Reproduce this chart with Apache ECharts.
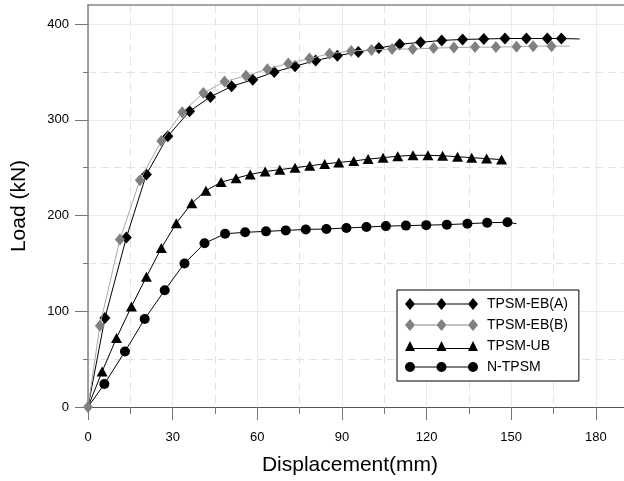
<!DOCTYPE html>
<html>
<head>
<meta charset="utf-8">
<script src="https://cdn.jsdelivr.net/npm/echarts@6/dist/echarts.min.js"></script>
<style>
html, body { margin: 0; padding: 0; background: #fff; }
#chart { width: 624px; height: 481px; }
</style>
</head>
<body>
<div id="chart"></div>
<script>
// values (displacement mm / load kN)
var ebA_x = [0, 6.0, 13.6, 20.7, 28.3, 36.0, 43.4, 50.9, 58.4, 66.0, 73.4, 80.7, 88.4, 95.8, 103.1, 110.5, 117.9, 125.4, 132.8, 140.3, 147.8, 155.4, 162.8, 167.8, 174.3];
var ebA_y = [0, 93, 177, 243, 283, 309, 324, 335, 342, 350, 356, 362, 367, 371, 375, 379, 381, 383, 384, 384.5, 385, 385, 385, 385, 384.5];

var ebB_x = [0, 4.2, 11.3, 18.4, 26.0, 33.4, 40.9, 48.4, 56.0, 63.6, 71.0, 78.5, 85.6, 93.3, 100.5, 107.8, 115.1, 122.5, 129.7, 137.2, 144.6, 151.9, 157.8, 164.3, 170.7];
var ebB_y = [0, 85, 175, 237, 278, 308, 328, 340, 346, 353, 359, 364, 369, 372, 373, 374, 374, 375, 375.5, 376, 376, 376.5, 377, 377, 377];

var ub_x = [0, 5.0, 10.1, 15.4, 20.7, 26.0, 31.3, 36.8, 41.8, 47.2, 52.5, 57.5, 62.8, 68.0, 73.4, 78.6, 83.9, 88.9, 94.2, 99.3, 104.6, 109.8, 115.2, 120.5, 125.7, 131.0, 136.0, 141.3, 146.6];
var ub_y = [0, 37, 72, 105, 136, 166, 192, 213, 226, 235, 239, 243, 246, 248, 250, 252, 254, 255.5, 257, 259, 260.5, 262, 263, 263, 262.5, 261.5, 260.5, 259.5, 258.5];

var nt_x = [0, 5.8, 13.1, 20.1, 27.2, 34.2, 41.3, 48.6, 55.7, 63.1, 70.1, 77.2, 84.5, 91.6, 98.7, 105.6, 112.7, 119.9, 127.2, 134.5, 141.5, 148.7, 151.9];
var nt_y = [0, 24, 58, 92, 122, 150, 171, 181, 182.5, 183.5, 184.5, 185.5, 186, 187, 188, 189, 189.5, 190, 190.5, 191.5, 192.5, 193, 191.5];

var seriesNames = ['TPSM-EB(A)', 'TPSM-EB(B)', 'TPSM-UB', 'N-TPSM'];
var yTicks = [0, 100, 200, 300, 400];

// build [x, y] items; first/last point may be a plain line point without marker
function buildData(xs, ys, hideFirst, hideLast) {
    return xs.map(function (x, i) {
        var item = { value: [x, ys[i]] };
        if ((hideFirst && i == 0) || (hideLast && i == xs.length - 1)) {
            item.symbol = 'none';
        }
        return item;
    });
}

// legend icons: a line with three markers, like the origin-style legend
var iconDiamond = 'path://M0,6L5,0L10,6L5,12Z M10,5.5L31.5,5.5L31.5,6.5L10,6.5Z M31.5,6L36.5,0L41.5,6L36.5,12Z M41.5,5.5L63,5.5L63,6.5L41.5,6.5Z M63,6L68,0L73,6L68,12Z';
var iconTriangle = 'path://M0,11L5,1L10,11Z M8,8L33,8L33,9L8,9Z M31.5,11L36.5,1L41.5,11Z M40,8L65,8L65,9L40,9Z M63,11L68,1L73,11Z';
var iconCircle = 'path://M0,6A5,5 0 1 1 10,6A5,5 0 1 1 0,6Z M9,5.5L32,5.5L32,6.5L9,6.5Z M31.5,6A5,5 0 1 1 41.5,6A5,5 0 1 1 31.5,6Z M41,5.5L64,5.5L64,6.5L41,6.5Z M63,6A5,5 0 1 1 73,6A5,5 0 1 1 63,6Z';

var font = 'Arial, "Liberation Sans", sans-serif';
var chart = echarts.init(document.getElementById('chart'));

var option = {
    animation: false,
    backgroundColor: '#fff',
    grid: { left: 88, top: 5, width: 538, height: 403 },
    legend: {
        orient: 'vertical',
        left: 397,
        top: 290,
        padding: [7, 11, 7, 8],
        itemGap: 7,
        itemWidth: 73,
        itemHeight: 12,
        borderColor: '#000',
        borderWidth: 1,
        backgroundColor: '#fff',
        textStyle: { color: '#000', fontSize: 14, fontFamily: font, padding: [0, 0, 0, 4] },
        data: [
            { name: seriesNames[0], icon: iconDiamond },
            { name: seriesNames[1], icon: iconDiamond },
            { name: seriesNames[2], icon: iconTriangle },
            { name: seriesNames[3], icon: iconCircle }
        ]
    },
    xAxis: [
        {
            type: 'value',
            min: 0,
            max: 190,
            interval: 30,
            name: 'Displacement(mm)',
            nameLocation: 'middle',
            nameGap: 48,
            nameTextStyle: { color: '#000', fontSize: 21, fontFamily: font, padding: [0, 12, 0, 0] },
            axisLine: { lineStyle: { color: '#555', width: 1 } },
            axisTick: { length: 13, lineStyle: { color: '#777' } },
            minorTick: { show: true, splitNumber: 2, length: 7, lineStyle: { color: '#777' } },
            axisLabel: { color: '#000', fontSize: 13, fontFamily: font, margin: 24, showMaxLabel: false },
            splitLine: { show: true, lineStyle: { color: '#ebebeb', width: 1 } },
            minorSplitLine: { show: true, lineStyle: { color: '#e2e2e2', type: [8, 5], width: 1 } }
        },
        {
            // top frame line only
            type: 'value',
            position: 'top',
            min: 0,
            max: 190,
            axisLine: { show: true, lineStyle: { color: '#888', width: 1.5 } },
            axisTick: { show: false },
            axisLabel: { show: false },
            splitLine: { show: false }
        }
    ],
    yAxis: {
        type: 'value',
        min: 0,
        max: 420,
        interval: 100,
        name: 'Load (kN)',
        nameLocation: 'middle',
        nameRotate: 90,
        nameGap: 58,
        nameTextStyle: { color: '#000', fontSize: 21, fontFamily: font },
        axisLine: { show: true, lineStyle: { color: '#808080', width: 1.5 } },
        axisTick: { length: 13, customValues: yTicks, lineStyle: { color: '#777' } },
        minorTick: { show: true, splitNumber: 2, length: 5, lineStyle: { color: '#777' } },
        axisLabel: { color: '#000', fontSize: 13, fontFamily: font, margin: 19, customValues: yTicks },
        splitLine: { show: true, lineStyle: { color: '#ebebeb', width: 1 } },
        minorSplitLine: { show: true, lineStyle: { color: '#e2e2e2', type: [8, 5], width: 1 } }
    },
    series: [
        {
            name: seriesNames[0],
            type: 'line',
            data: buildData(ebA_x, ebA_y, true, true),
            symbol: 'diamond',
            symbolSize: [11, 12],
            itemStyle: { color: '#000' },
            lineStyle: { color: '#000', width: 1 },
            z: 3
        },
        {
            name: seriesNames[1],
            type: 'line',
            data: buildData(ebB_x, ebB_y, false, true),
            symbol: 'diamond',
            symbolSize: [10, 12],
            itemStyle: { color: '#808080' },
            lineStyle: { color: '#a8a8a8', width: 1 },
            z: 4
        },
        {
            name: seriesNames[2],
            type: 'line',
            data: buildData(ub_x, ub_y, true, false),
            symbol: 'triangle',
            symbolSize: [11, 10],
            itemStyle: { color: '#000' },
            lineStyle: { color: '#000', width: 1 },
            z: 3
        },
        {
            name: seriesNames[3],
            type: 'line',
            data: buildData(nt_x, nt_y, true, true),
            symbol: 'circle',
            symbolSize: 10,
            itemStyle: { color: '#000' },
            lineStyle: { color: '#000', width: 1 },
            z: 3
        }
    ]
};

chart.setOption(option);
</script>
</body>
</html>
